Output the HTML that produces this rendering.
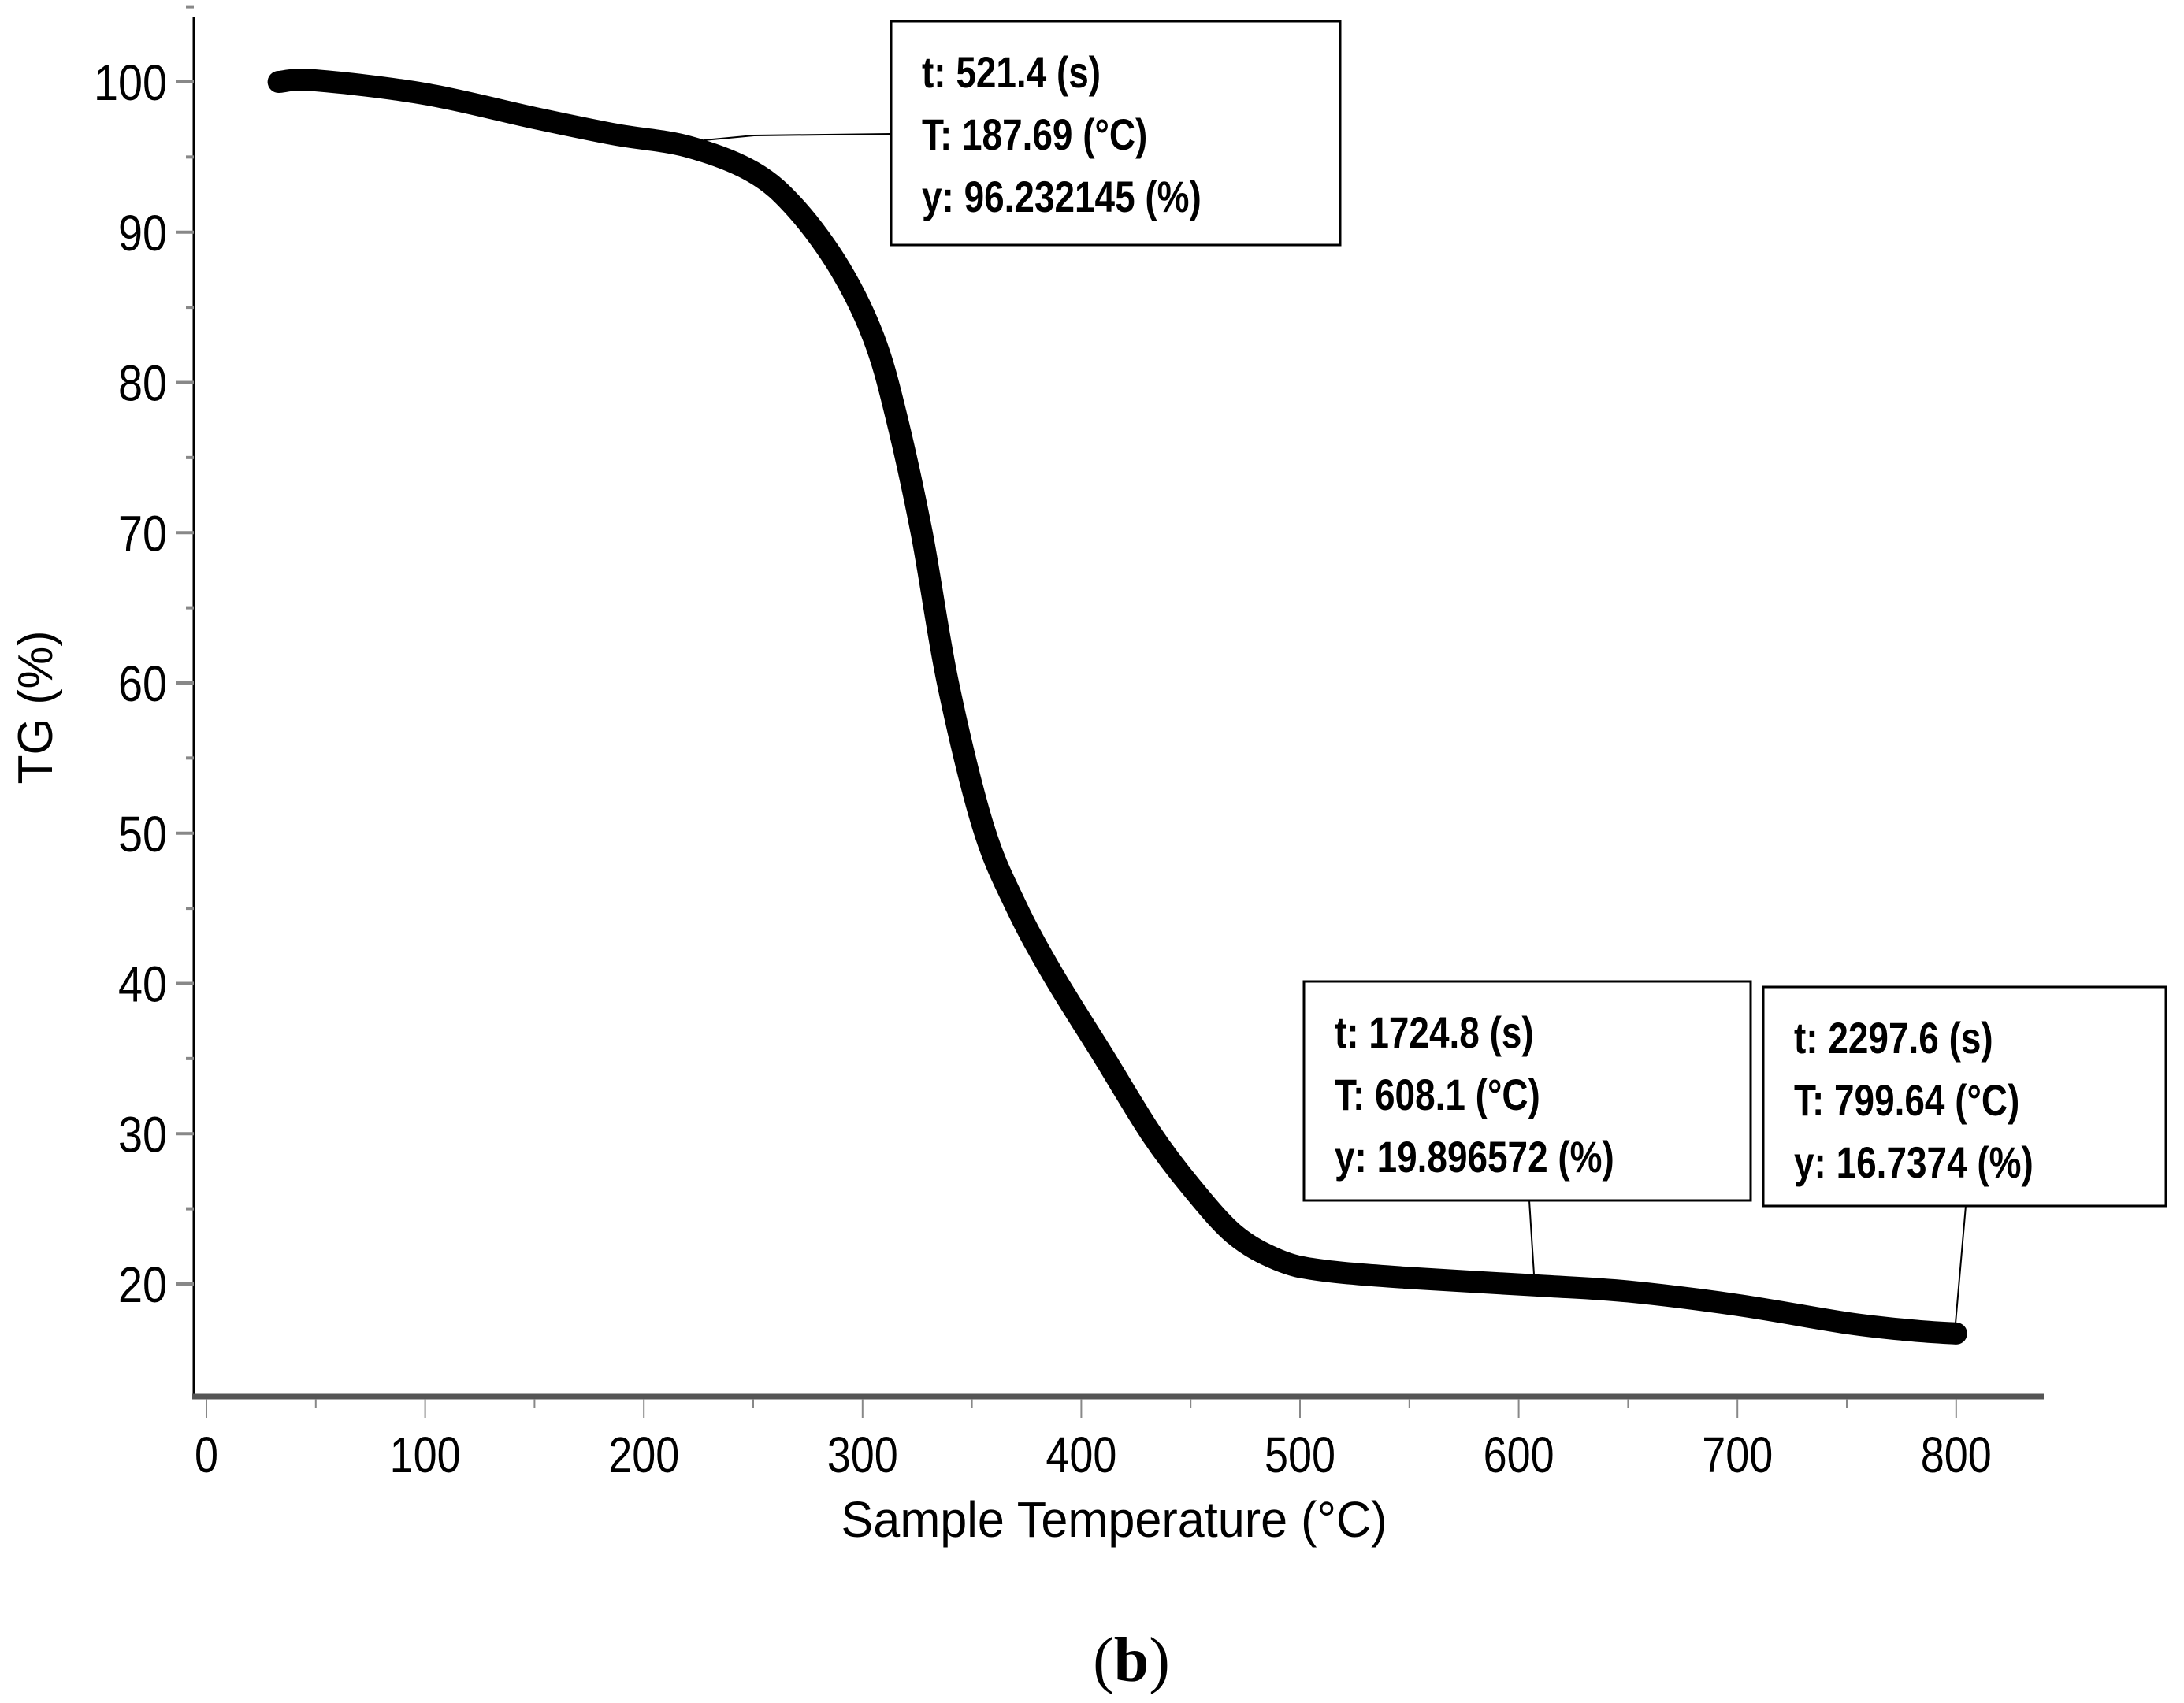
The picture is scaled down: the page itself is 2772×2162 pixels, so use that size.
<!DOCTYPE html>
<html><head><meta charset="utf-8"><style>
html,body{margin:0;padding:0;background:#fff;}
svg{display:block;}
</style></head><body>
<svg id="chart" width="2772" height="2162" viewBox="0 0 2772 2162" xmlns="http://www.w3.org/2000/svg">
<rect width="2772" height="2162" fill="#fff"/>
<g id="axes"></g>
<g id="plot"></g>
<g id="annotations"></g>
<text x="1414" y="1951" font-family="Liberation Sans, sans-serif" font-size="64" text-anchor="middle" textLength="693" lengthAdjust="spacingAndGlyphs" fill="#000">Sample Temperature (°C)</text>
<text transform="translate(66,898) rotate(-90)" font-family="Liberation Sans, sans-serif" font-size="62" text-anchor="middle" textLength="195" lengthAdjust="spacingAndGlyphs" fill="#000">TG (%)</text>
<text x="1436" y="2134" font-family="Liberation Serif, serif" font-size="80" text-anchor="middle" fill="#000">(<tspan font-weight="bold">b</tspan>)</text>
</svg>
<script>
const temps = [33,50,100,150,187,220,250,270,290,305,315,327,339,355,370,387,410,432,450,470,490,510,550,608,650,700,750,780,800];
const tg    = [100,100.1,99.2,97.6,96.5,95.7,94,91.5,87.5,83,78,70,60,50.5,45.2,40.6,35.2,30,26.5,23.3,21.6,20.9,20.4,19.9,19.5,18.6,17.4,16.9,16.7];
const xTicks = [0,100,200,300,400,500,600,700,800];
const yTicks = [20,30,40,50,60,70,80,90,100];
const annoT = [187.69,608.1,799.64];
const annoTime = ['521.4','1724.8','2297.6'];
const annoY = ['96.232145','19.896572','16.7374'];

const NS='http://www.w3.org/2000/svg';
const xs = v => 262 + v*2.776;
const ys = v => 1630 - (v-20)*19.075;
function mk(tag, attrs, parent){const e=document.createElementNS(NS,tag);for(const k in attrs)e.setAttribute(k,attrs[k]);parent.appendChild(e);return e;}
const axes=document.getElementById('axes'), plot=document.getElementById('plot'), ann=document.getElementById('annotations');

let yAx=mk('line',{x1:246,y1:21,x2:246,y2:1773,stroke:'#000','stroke-width':3},axes);


let xAx=mk('line',{x1:244,y1:1773,x2:2594,y2:1773,stroke:'#555','stroke-width':7},axes);



yTicks.forEach(v=>{
  const y=ys(v);
  let t=mk('line',{x1:223,y1:y,x2:246,y2:y,stroke:'#888','stroke-width':4},axes);
  
  
  let m=mk('line',{x1:236,y1:y-95.4,x2:246,y2:y-95.4,stroke:'#888','stroke-width':4},axes);
  
  
  let l=mk('text',{x:212,y:y+23,'font-family':'Liberation Sans, sans-serif','font-size':64,'text-anchor':'end',fill:'#000',textLength:String(v).length*31,lengthAdjust:'spacingAndGlyphs'},axes);
  l.textContent=v;
  
  
});
xTicks.forEach(v=>{
  const x=xs(v);
  let t=mk('line',{x1:x,y1:1776,x2:x,y2:1800,stroke:'#888','stroke-width':2},axes);
  
  
  if(v<800){let m=mk('line',{x1:x+138.8,y1:1776,x2:x+138.8,y2:1788,stroke:'#888','stroke-width':2},axes);
  
  }
  let l=mk('text',{x:x,y:1869,'font-family':'Liberation Sans, sans-serif','font-size':64,'text-anchor':'middle',fill:'#000',textLength:String(v).length*30,lengthAdjust:'spacingAndGlyphs'},axes);
  l.textContent=v;
  
  
});

const P=temps.map((t,i)=>[xs(t),ys(tg[i])]);
let d='M'+P[0][0].toFixed(1)+','+P[0][1].toFixed(1);
for(let i=0;i<P.length-1;i++){
  const p0=P[Math.max(0,i-1)],p1=P[i],p2=P[i+1],p3=P[Math.min(P.length-1,i+2)];
  const c1=[p1[0]+(p2[0]-p0[0])/6,p1[1]+(p2[1]-p0[1])/6];
  const c2=[p2[0]-(p3[0]-p1[0])/6,p2[1]-(p3[1]-p1[1])/6];
  d+=' C'+c1.map(v=>v.toFixed(1)).join(',')+' '+c2.map(v=>v.toFixed(1)).join(',')+' '+p2.map(v=>v.toFixed(1)).join(',');
}
let curve=mk('path',{d:d,fill:'none',stroke:'#000','stroke-width':28,'stroke-linecap':'round','stroke-linejoin':'round'},plot);



const boxes=[[1131,27,570,284],[1655,1246,567,278],[2238,1253,511,278]];
const leaders=[[[1131,170],[957,172],[893,178]],[[1941,1524],[1947,1618]],[[2495,1531],[2482,1680]]];
annoT.forEach((T,i)=>{
  const b=boxes[i];
  let r=mk('rect',{x:b[0],y:b[1],width:b[2],height:b[3],fill:'#fff',stroke:'#000','stroke-width':3},ann);
  
  
  let pl=mk('polyline',{points:leaders[i].map(p=>p.join(',')).join(' '),fill:'none',stroke:'#000','stroke-width':2},ann);
  
  
  const lines=['t: '+annoTime[i]+' (s)','T: '+T+' (°C)','y: '+annoY[i]+' (%)'];
  lines.forEach((s,j)=>{
    let tx=mk('text',{x:b[0]+39,y:b[1]+84+j*79,'font-family':'Liberation Sans, sans-serif','font-size':56,'font-weight':'bold',fill:'#000'},ann);
    tx.textContent=s;
    
    
    const w=tx.getComputedTextLength();
    tx.setAttribute('textLength',(w*0.82).toFixed(1));
    tx.setAttribute('lengthAdjust','spacingAndGlyphs');
  });
});
</script>
</body></html>
